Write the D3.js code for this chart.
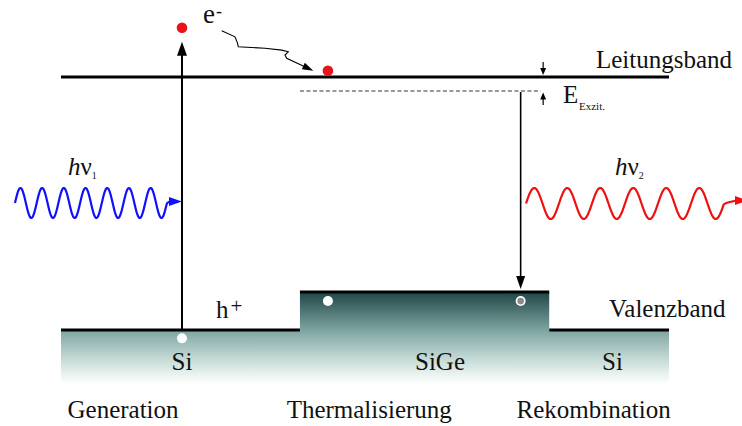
<!DOCTYPE html>
<html><head><meta charset="utf-8">
<script src="https://cdn.jsdelivr.net/npm/d3@7/dist/d3.min.js"></script>
<style>
body{margin:0;background:#fff}
svg{display:block}
text{font-family:"Liberation Serif","Times New Roman",serif;fill:#111}
</style>
</head><body>
<svg id="c" width="742" height="426"></svg>
<script>
// ---------- data ----------
const regions        = ["Si", "SiGe", "Si"];
const regionStart    = [0, 39.3, 80.3];          // position units (0..100)
const regionEnd      = [39.3, 80.3, 100];
const valenceLevel   = [0, 0.168, 0];            // eV
const conductionLevel = 1.12;                    // eV
const excitonLevel    = 1.058;                   // eV
const bandLabels      = ["Leitungsband", "Valenzband"];
const processLabels   = ["Generation", "Thermalisierung", "Rekombination"];
const processCenter   = [10.2, 50.7, 87.6];
const photonLabels    = ["hν", "hν"];
const photonIndex     = ["1", "2"];
const generationX     = 19.9;
const recombinationX  = 75.6;
const electronHigh    = [19.9, 1.338];
const electronThermal = [43.9, 1.148];
const holes           = [[19.9, -0.037], [43.9, 0.128], [75.6, 0.128]];
const thermalPath     = [[26.43,1.325],[28.62,1.298],[29.0,1.272],[29.16,1.254],[33.55,1.247],
                         [36.3,1.239],[37.38,1.232],[36.84,1.217],[37.12,1.203],[41.5,1.148]];
const excitonStart = 39.3, excitonEnd = 78.9, excitonArrowX = 79.3;

// ---------- scales ----------
const x = d3.scaleLinear().domain([0, 100]).range([61, 669]);
const y = d3.scaleLinear().domain([0, 1.12]).range([330, 77]);
const svg = d3.select("#c");
svg.append("rect").attr("width",742).attr("height",426).attr("fill","#fff");

const defs = svg.append("defs");
const g = defs.append("linearGradient").attr("id","vg")
  .attr("gradientUnits","userSpaceOnUse")
  .attr("x1",0).attr("x2",0).attr("y1",y(0.17)).attr("y2",y(-0.24));
[[0,"#1e4646"],[0.42,"#7fa5a1"],[0.72,"#c3d9d5"],[0.9,"#ebf3f1"],[1,"#ffffff"]].forEach(s =>
  g.append("stop").attr("offset",s[0]).attr("stop-color",s[1]));

function arrowHead(sel, tip, from, len, w, color){
  const dx = tip[0]-from[0], dy = tip[1]-from[1], L = Math.hypot(dx,dy);
  const ux = dx/L, uy = dy/L;
  const bx = tip[0]-ux*len, by = tip[1]-uy*len;
  sel.append("path")
    .attr("d", `M${tip[0]},${tip[1]}L${bx-uy*w/2},${by+ux*w/2}L${bx+uy*w/2},${by-ux*w/2}Z`)
    .attr("fill", color);
}

// ---------- valence band regions ----------
const bottomE = -0.24;
let area = `M${x(regionStart[0])},${y(bottomE)}`;
regions.forEach((r,i)=>{ area += `L${x(regionStart[i])},${y(valenceLevel[i])}L${x(regionEnd[i])},${y(valenceLevel[i])}`; });
area += `L${x(regionEnd[regions.length-1])},${y(bottomE)}Z`;
svg.append("path").attr("d",area).attr("fill","url(#vg)");

svg.selectAll(".vb").data(regions).join("line")
  .attr("x1",(d,i)=>x(regionStart[i])).attr("x2",(d,i)=>x(regionEnd[i]))
  .attr("y1",(d,i)=>y(valenceLevel[i])).attr("y2",(d,i)=>y(valenceLevel[i]))
  .attr("stroke","#000").attr("stroke-width",3);

// conduction band
svg.append("line").attr("x1",x(0)).attr("x2",x(100))
  .attr("y1",y(conductionLevel)).attr("y2",y(conductionLevel))
  .attr("stroke","#000").attr("stroke-width",3);

// exciton level
svg.append("line").attr("x1",x(excitonStart)).attr("x2",x(excitonEnd))
  .attr("y1",y(excitonLevel)).attr("y2",y(excitonLevel))
  .attr("stroke","#333").attr("stroke-width",1).attr("stroke-dasharray","4,2.5");

// E_exzit arrows
const ea = x(excitonArrowX);
svg.append("line").attr("x1",ea).attr("x2",ea).attr("y1",y(conductionLevel)-15).attr("y2",y(conductionLevel)-6)
  .attr("stroke","#000").attr("stroke-width",1.2);
arrowHead(svg,[ea,y(conductionLevel)-2],[ea,y(conductionLevel)-15],7,6,"#000");
svg.append("line").attr("x1",ea).attr("x2",ea).attr("y1",y(excitonLevel)+14).attr("y2",y(excitonLevel)+6)
  .attr("stroke","#000").attr("stroke-width",1.2);
arrowHead(svg,[ea,y(excitonLevel)+1.5],[ea,y(excitonLevel)+14],7,6,"#000");

// generation arrow
const gx = x(generationX);
const gTip = y(electronHigh[1]) + 14;
svg.append("line").attr("x1",gx).attr("x2",gx).attr("y1",y(0)).attr("y2",gTip+10)
  .attr("stroke","#000").attr("stroke-width",2);
arrowHead(svg,[gx,gTip],[gx,y(0)],14,10,"#000");

// recombination arrow
const rx = x(recombinationX);
const rTip = y(valenceLevel[1]) - 3;
svg.append("line").attr("x1",rx).attr("x2",rx).attr("y1",y(excitonLevel)+1).attr("y2",rTip-10)
  .attr("stroke","#000").attr("stroke-width",1.6);
arrowHead(svg,[rx,rTip],[rx,y(excitonLevel)],13,9,"#000");

// thermalisation path
const tp = thermalPath.map(p=>[x(p[0]),y(p[1])]);
svg.append("path").attr("d",d3.line()(tp.slice(0,-1).concat([[tp[tp.length-1][0]-8,tp[tp.length-1][1]-3.7]])))
  .attr("fill","none").attr("stroke","#000").attr("stroke-width",1.1);
arrowHead(svg,tp[tp.length-1],tp[tp.length-2],11,7,"#000");

// electrons
[electronHigh, electronThermal].forEach(e=>
  svg.append("circle").attr("cx",x(e[0])).attr("cy",y(e[1])).attr("r",5.3).attr("fill","#e8131b"));

// holes
holes.forEach((h,i)=>{
  svg.append("circle").attr("cx",x(h[0])).attr("cy",y(h[1])).attr("r",5).attr("fill","#fff");
  if(i===2) svg.append("circle").attr("cx",x(h[0])).attr("cy",y(h[1])).attr("r",3.3).attr("fill","#8a8a8a");
});

// photons (waves)
function wave(x0, period, amp, cy, turns, tipX, tipY, color){
  const pts = [];
  const n = 400;
  for(let k=0;k<=n;k++){
    const t = turns*k/n;
    pts.push([x0 + t*period, cy - amp*Math.sin(2*Math.PI*t)]);
  }
  const headLen = 13;
  pts.push([tipX-headLen+1, tipY]);
  svg.append("path").attr("d",d3.line().curve(d3.curveBasis)(pts))
    .attr("fill","none").attr("stroke",color).attr("stroke-width",2.2);
  arrowHead(svg,[tipX,tipY],[tipX-headLen,tipY],headLen,9,color);
}
wave(15, 21.7, 15, 203, 7.0, gx, 201.5, "#1010ff");
wave(526, 33, 15.5, 203.5, 6.0, 748, 200.5, "#ee1111");

// ---------- text ----------
const T = (t,xp,yp,size,anchor)=>svg.append("text").attr("x",xp).attr("y",yp)
  .attr("font-size",size).attr("text-anchor",anchor||"start").text(t);

T(bandLabels[0], 596, 68, 25);
T(bandLabels[1], 609, 317, 25);
processLabels.forEach((p,i)=>T(p, x(processCenter[i]), 418, 25, "middle"));
regions.forEach((r,i)=>{
  const cx = i===0 ? gx : i===1 ? 440 : 612.5;
  T(r, cx, 370, 25, "middle");
});

// e-
T("e", 203, 22.7, 27);
T("-", 216, 17, 18);
// h+
T("h", 216, 318.3, 25);
T("+", 230.5, 312.5, 21);
// E_Exzit
T("E", 563, 103, 25);
T("Exzit.", 579, 110, 11);

// h nu labels
[[68,175],[615,175]].forEach((p,i)=>{
  const t = svg.append("text").attr("x",p[0]).attr("y",p[1]).attr("font-size",25);
  t.append("tspan").attr("font-style","italic").text(photonLabels[i][0]);
  t.append("tspan").text(photonLabels[i][1]);
  t.append("tspan").attr("font-size",10).attr("dy",4).text(photonIndex[i]);
});
</script>
</body></html>
